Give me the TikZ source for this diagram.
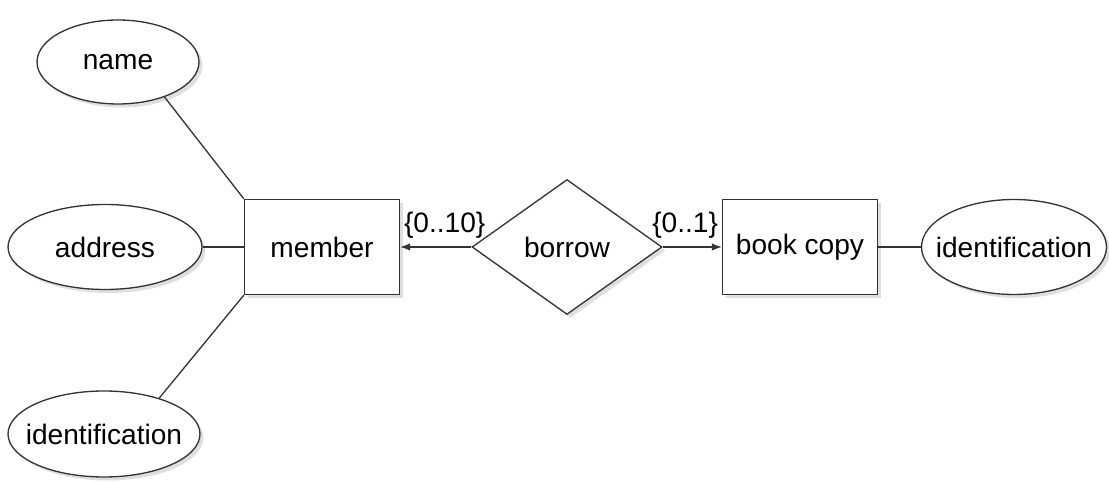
\documentclass[tikz,border=0pt]{standalone}
\usepackage{fontspec}
\setmainfont{Liberation Sans}
\usetikzlibrary{shapes.geometric,shadows,arrows.meta}

\tikzset{
    shade/.style={drop shadow={shadow xshift=0.07cm, shadow yshift=-0.07cm, opacity=0.25}},
    attr/.style={ellipse, draw=black!80, line width=0.75pt, fill=white, shade,
        inner xsep=-0.3cm, inner ysep=0pt},
    entity/.style={rectangle, draw=black!80, line width=0.75pt, fill=white, shade,
        minimum width=3.1cm, minimum height=1.9cm},
    relation/.style={diamond, draw=black!80, line width=0.75pt, fill=white, shade,
        minimum width=3.8cm, minimum height=2.7cm, inner sep=0pt},
    link/.style={draw=black!80, line width=0.75pt},
    card/.style={link, -{Latex[length=2mm, width=1.5mm]}}
}

\begin{document}
\begin{tikzpicture}[x=0.02cm, y=-0.02cm, font=\fontsize{16}{19}\selectfont]
    \useasboundingbox (0,0) rectangle (1109,482);

    % entities and relation
    \node[entity] (member) at (322,247) {member};
    \node[relation] (borrow) at (567,247) {borrow};
    \node[entity] (bookcopy) at (800,247) {book copy};

    % attributes
    \node[attr, minimum width=3.24cm, minimum height=1.68cm] (name) at (118,62) {name};
    \node[attr, minimum width=3.88cm, minimum height=1.7cm] (address) at (105,247) {address};
    \node[attr, minimum width=3.84cm, minimum height=1.72cm] (memberid) at (104,434) {identification};
    \node[attr, minimum width=3.7cm, minimum height=1.9cm] (copyid) at (1014,247) {identification};

    % attribute links
    \draw[link] (name.-37) -- (member.north west);
    \draw[link] (address) -- (member.west);
    \draw[link] (memberid.33) -- (member.south west);
    \draw[link] (bookcopy) -- (copyid);

    % cardinalities
    \draw[card] (borrow.west) -- (member.east);
    \draw[card] (borrow.east) -- (bookcopy.west);
    \node[anchor=south west, inner sep=2pt, yshift=0.1cm] (cardmember) at (member.east) {\{0..10\}};
    \node[anchor=south east, inner sep=2pt, yshift=0.1cm] (cardcopy) at (bookcopy.west) {\{0..1\}};
\end{tikzpicture}
\end{document}
